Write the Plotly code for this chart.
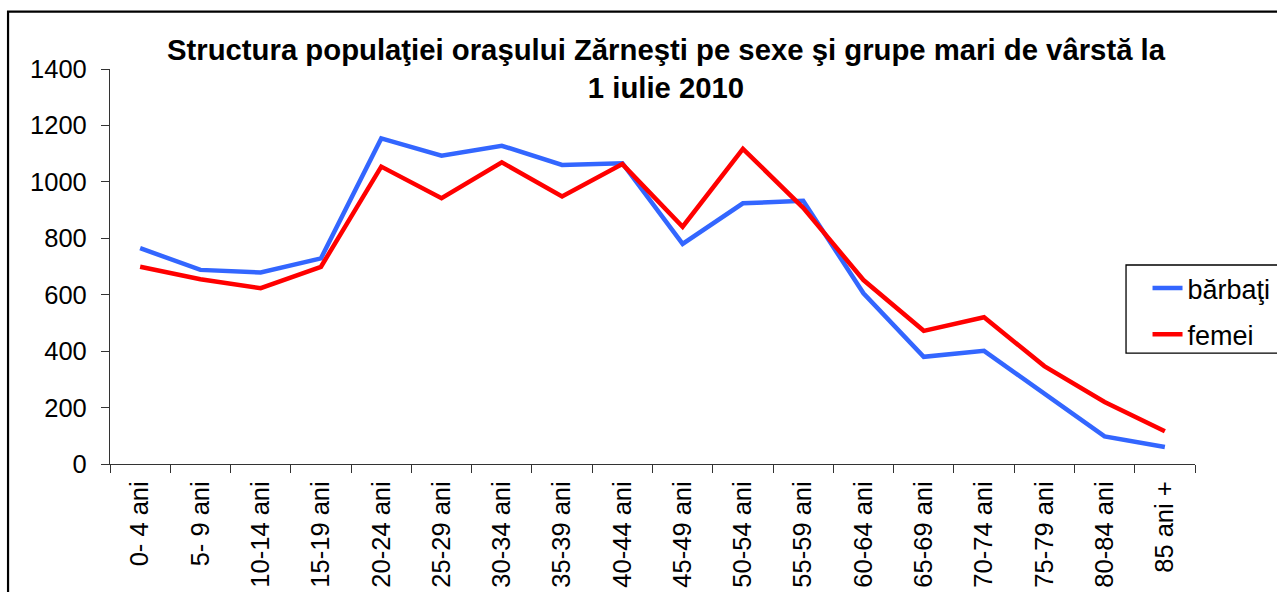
import plotly.graph_objects as go

categories = ["0- 4 ani", "5- 9 ani", "10-14 ani", "15-19 ani", "20-24 ani", "25-29 ani",
              "30-34 ani", "35-39 ani", "40-44 ani", "45-49 ani", "50-54 ani", "55-59 ani",
              "60-64 ani", "65-69 ani", "70-74 ani", "75-79 ani", "80-84 ani", "85 ani +"]
barbati = [765, 688, 679, 729, 1154, 1093, 1128, 1060, 1066, 780, 924, 933,
           605, 380, 401, 250, 98, 60]
femei = [699, 655, 623, 699, 1054, 942, 1069, 948, 1063, 841, 1117, 908,
         652, 472, 520, 347, 220, 116]
y_ticks = [0, 200, 400, 600, 800, 1000, 1200, 1400]

W, H = 1277, 592
L, R = 110, 1195.5
T, B = 69.3, 463.7
pw, ph = R - L, B - T

def px_x(p):
    return (p - L) / pw

def px_y(p):
    return (B - p) / ph

FONT = "Liberation Sans, Arial, sans-serif"

fig = go.Figure()
fig.add_trace(go.Scatter(x=categories, y=barbati, mode="lines", name="bărbaţi",
                         line=dict(color="#3366FF", width=4.5), legendgroup="a"))
fig.add_trace(go.Scatter(x=categories, y=femei, mode="lines", name="femei",
                         line=dict(color="#FF0000", width=4.5), legendgroup="b"))

fig.update_layout(
    width=W, height=H,
    margin=dict(l=L, r=W - R, t=T, b=H - B, pad=0, autoexpand=False),
    paper_bgcolor="white", plot_bgcolor="white",
    font=dict(family=FONT, size=25, color="black"),
    title=dict(text="<b>Structura populaţiei oraşului Zărneşti pe sexe şi grupe mari de vârstă la<br>1 iulie 2010</b>",
               x=666 / W, xanchor="center", xref="container",
               y=1 - 60 / H, yanchor="top", yref="container",
               font=dict(family=FONT, size=29.3, color="black"), automargin=False),
    showlegend=True,
    legend=dict(x=px_x(1148), y=px_y(264), xanchor="left", yanchor="top",
                xref="paper", yref="paper",
                bgcolor="rgba(0,0,0,0)", borderwidth=0,
                font=dict(family=FONT, size=27, color="black"),
                traceorder="grouped", tracegroupgap=8),
    xaxis=dict(type="category", range=[-0.5, len(categories) - 0.5], automargin=False,
               showline=True, linecolor="#333333", linewidth=1.2,
               ticks="outside", tickson="boundaries", ticklen=8, tickcolor="#333333",
               tickangle=-90, showgrid=False, zeroline=False, ticklabelstandoff=6,
               tickfont=dict(family=FONT, size=25.5, color="black")),
    yaxis=dict(range=[0, 1400], tickvals=y_ticks, automargin=False,
               showline=True, linecolor="#333333", linewidth=1.2,
               ticks="outside", ticklen=8, tickcolor="#333333",
               showgrid=False, zeroline=False, ticklabelstandoff=9,
               tickfont=dict(family=FONT, size=25.5, color="black")),
    shapes=[
        dict(type="rect", xref="paper", yref="paper",
             x0=px_x(8), x1=px_x(1400), y0=px_y(12), y1=px_y(700),
             line=dict(color="black", width=2.2), fillcolor="rgba(0,0,0,0)", layer="below"),
        dict(type="rect", xref="paper", yref="paper",
             x0=px_x(1126.5), x1=px_x(1400), y0=px_y(265), y1=px_y(353),
             line=dict(color="black", width=1.3), fillcolor="rgba(0,0,0,0)", layer="above"),
    ],
)

fig.write_html("out.html", config={"displayModeBar": False},
               post_script="document.body.style.margin='0';document.body.style.overflow='hidden';")
